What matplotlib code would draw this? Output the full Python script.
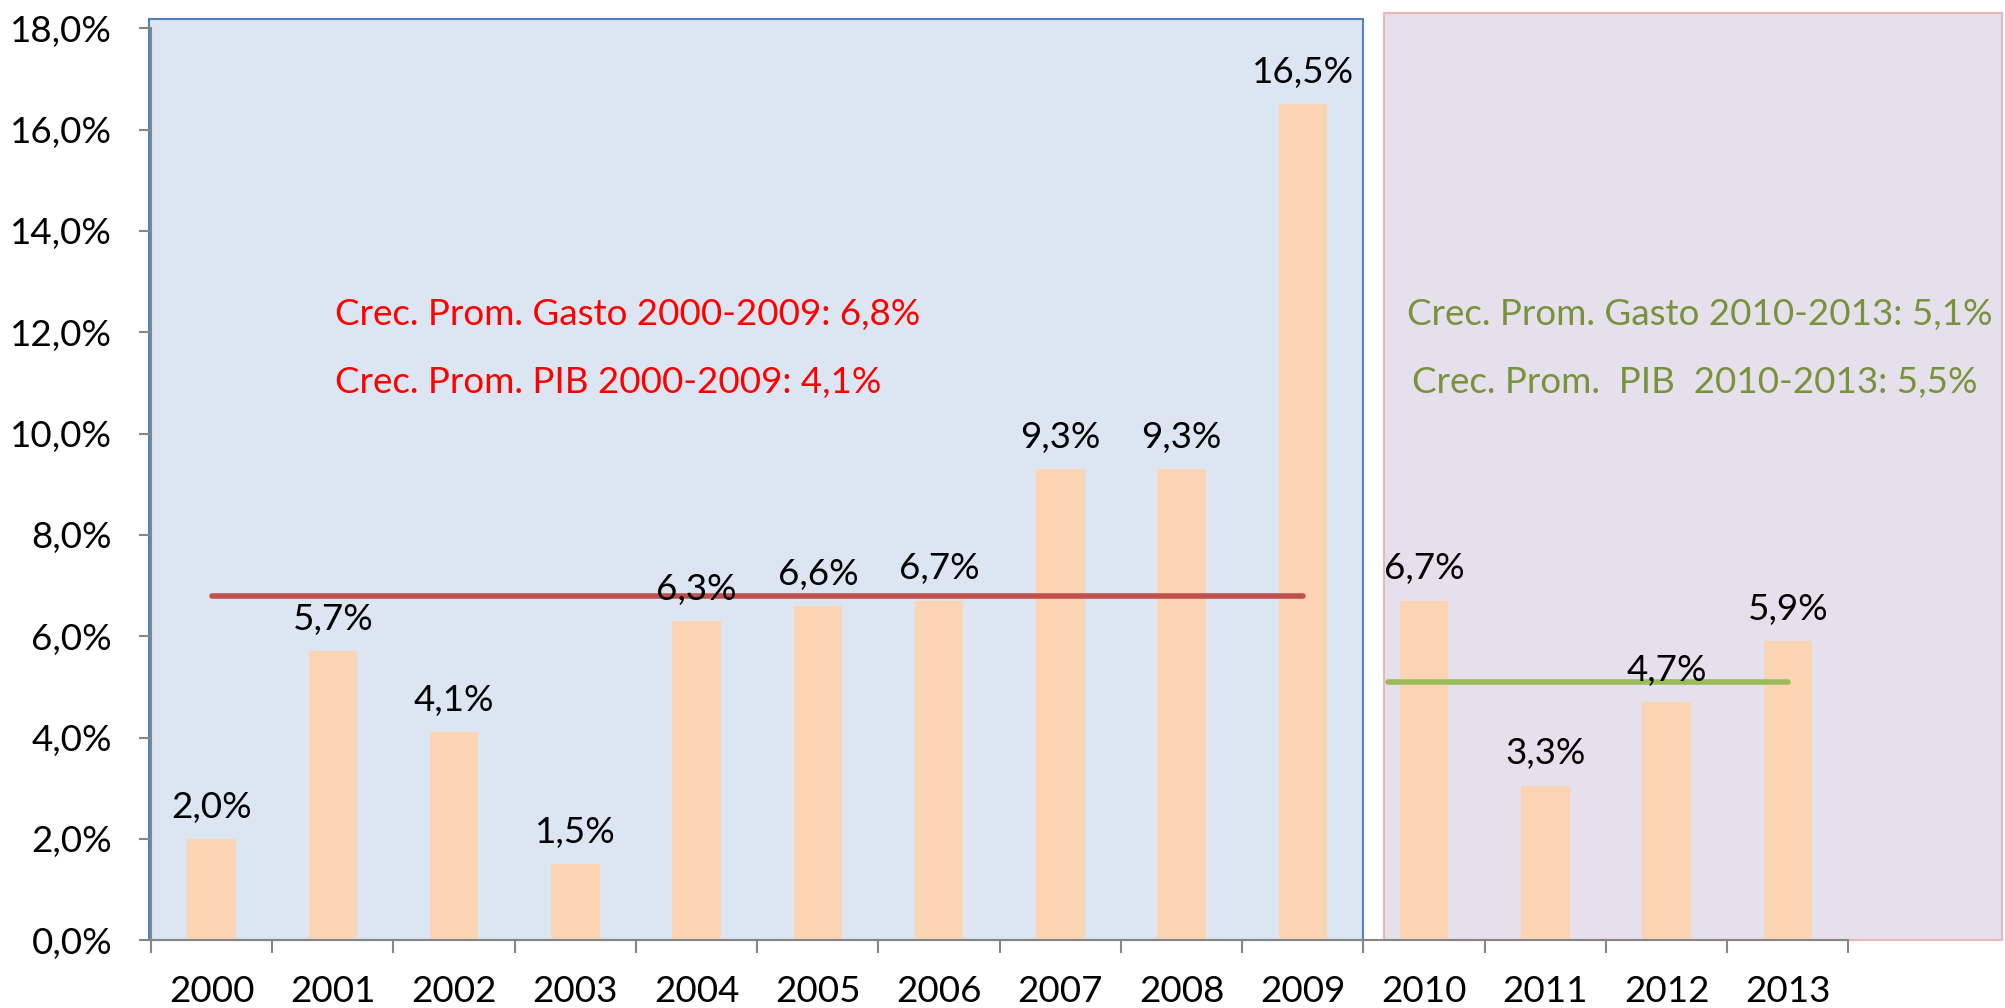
import matplotlib
matplotlib.use("Agg")
import numpy as np
from matplotlib import pyplot as plt
from matplotlib.patches import Rectangle
from matplotlib.ticker import FuncFormatter, FixedLocator

years = ["2000", "2001", "2002", "2003", "2004", "2005", "2006",
         "2007", "2008", "2009", "2010", "2011", "2012", "2013"]
bar_values = [2.0, 5.7, 4.1, 1.5, 6.3, 6.6, 6.7, 9.3, 9.3, 16.5, 6.7, 3.05, 4.7, 5.9]
bar_labels = ["2,0%", "5,7%", "4,1%", "1,5%", "6,3%", "6,6%", "6,7%",
              "9,3%", "9,3%", "16,5%", "6,7%", "3,3%", "4,7%", "5,9%"]

avg_1 = 6.8   # promedio 2000-2009
avg_1_x = [0, 9]
avg_2 = 5.1   # promedio 2010-2013
avg_2_x = [9.7, 13]

txt_red = ["Crec. Prom. Gasto 2000-2009: 6,8%", "Crec. Prom. PIB 2000-2009: 4,1%"]
txt_green = ["Crec. Prom. Gasto 2010-2013: 5,1%", "Crec. Prom.  PIB  2010-2013: 5,5%"]

plt.rcParams['font.family'] = ['Lato', 'DejaVu Sans']
FS = 26.5

fig = plt.figure(figsize=(20.05, 10.08), dpi=100)
ax = fig.add_axes([0.0753, 0.0673, 0.9234, 0.9047])

x = np.arange(len(years))
ax.set_xlim(-0.5, 14.77)
ax.set_ylim(0, 18)

# cajas de fondo
ax.add_patch(Rectangle((-0.52, 0), 10.02, 18.18, facecolor="#DCE6F2",
                       edgecolor="#4F81BD", lw=1.5, clip_on=False, zorder=0))
ax.add_patch(Rectangle((9.67, 0), 5.1, 18.3, facecolor="#E6E0EC",
                       edgecolor="#E6B9B8", lw=1.5, clip_on=False, zorder=0))

ax.bar(x, bar_values, width=0.4, color="#FBD4B4", zorder=2)
for xi, v, lab in zip(x, bar_values, bar_labels):
    ax.annotate(lab, (xi, v), xytext=(0, 11), textcoords="offset points",
                ha="center", va="bottom", fontsize=FS, zorder=4)

ax.plot(avg_1_x, [avg_1, avg_1], color="#C0504D", lw=4, solid_capstyle="round", zorder=3)
ax.plot(avg_2_x, [avg_2, avg_2], color="#9BBB59", lw=4, solid_capstyle="round", zorder=3)

ax.text(1.02, 12.35, txt_red[0], color="#FF0000", fontsize=FS, va="center")
ax.text(1.02, 11.0, txt_red[1], color="#FF0000", fontsize=FS, va="center")
ax.text(9.86, 12.35, txt_green[0], color="#77933C", fontsize=FS, va="center")
ax.text(9.90, 11.0, txt_green[1], color="#77933C", fontsize=FS, va="center")

for s in ["top", "right"]:
    ax.spines[s].set_visible(False)
ax.spines["left"].set_color("#868686")
ax.spines["bottom"].set_color("#868686")
ax.spines["left"].set_linewidth(1.5)
ax.spines["bottom"].set_linewidth(1.5)
ax.spines["bottom"].set_bounds(-0.5, 13.5)
ax.spines["left"].set_zorder(5)

ax.set_yticks(np.arange(0, 18.1, 2))
ax.yaxis.set_major_formatter(FuncFormatter(lambda v, p: f"{v:.1f}%".replace(".", ",")))
ax.tick_params(axis="y", length=9, width=1.5, color="#868686", labelsize=FS, pad=19)

ax.xaxis.set_major_locator(FixedLocator(np.arange(-0.5, 13.6, 1)))
ax.xaxis.set_minor_locator(FixedLocator(x))
ax.set_xticklabels([], minor=False)
ax.set_xticklabels(years, minor=True)
ax.tick_params(axis="x", which="major", length=9, width=1.5, color="#868686")
ax.tick_params(axis="x", which="minor", length=0, labelsize=FS, pad=25)

fig.savefig("out.png", dpi=100)
